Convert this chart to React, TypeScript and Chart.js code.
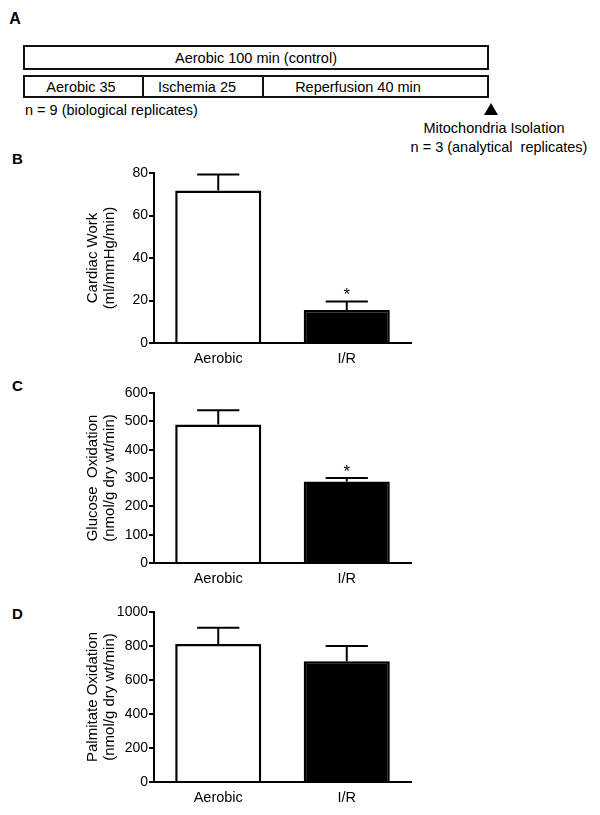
import React, { useEffect, useRef } from "react";
import { Chart, registerables } from "chart.js";

Chart.register(...registerables);

// ---------- data ----------
const categories = ["Aerobic", "I/R"];
const barFills = ["#ffffff", "#000000"];

const cardiacWork = [71.8, 15.5];
const cardiacWorkErr = [7.5, 4.0];
const cardiacWorkSig = [false, true];
const cardiacTicks = { min: 0, max: 80, step: 20 };

const glucoseOx = [489, 288];
const glucoseOxErr = [50, 12];
const glucoseOxSig = [false, true];
const glucoseTicks = { min: 0, max: 600, step: 100 };

const palmitateOx = [812, 710];
const palmitateOxErr = [96, 90];
const palmitateOxSig = [false, false];
const palmitateTicks = { min: 0, max: 1000, step: 200 };

const timelineControl = "Aerobic 100 min (control)";
const timelineSegments = ["Aerobic 35", "Ischemia 25", "Reperfusion 40 min"];
const bioNote = "n = 9 (biological replicates)";
const isoNote1 = "Mitochondria Isolation";
const isoNote2 = "n = 3 (analytical  replicates)";

const FONT = "'Liberation Sans', Arial, Helvetica, sans-serif";
const INK = "#000";

const errorBarPlugin = {
  id: "errorBars",
  afterDatasetsDraw(chart: any, _args: any, opts: any) {
    const { ctx } = chart;
    const meta = chart.getDatasetMeta(0);
    const yScale = chart.scales.y;
    const values = chart.data.datasets[0].data as number[];
    const errs: number[] = opts.errors || [];
    const stars: boolean[] = opts.stars || [];
    ctx.save();
    ctx.strokeStyle = "#000";
    ctx.lineWidth = 2;
    meta.data.forEach((bar: any, i: number) => {
      const v = values[i];
      const e = errs[i] || 0;
      const yBar = yScale.getPixelForValue(v);
      const yTop = yScale.getPixelForValue(v + e);
      const half = bar.width * 0.245;
      ctx.beginPath();
      ctx.moveTo(bar.x, yBar);
      ctx.lineTo(bar.x, yTop);
      ctx.moveTo(bar.x - half, yTop);
      ctx.lineTo(bar.x + half, yTop);
      ctx.stroke();
      if (stars[i]) {
        ctx.fillStyle = INK;
        ctx.font = `17px ${FONT}`;
        ctx.textAlign = "center";
        ctx.textBaseline = "alphabetic";
        ctx.fillText("*", bar.x, yTop - 1.5);
      }
    });
    ctx.restore();
  },
};

type PanelProps = {
  top: number;
  values: number[];
  errors: number[];
  stars: boolean[];
  ticks: { min: number; max: number; step: number };
  title: string[];
};

const CANVAS_H = 233;

function BarPanel({ top, values, errors, stars, ticks, title }: PanelProps) {
  const ref = useRef<HTMLCanvasElement>(null);
  useEffect(() => {
    const chart = new Chart(ref.current as HTMLCanvasElement, {
      type: "bar",
      data: {
        labels: categories,
        datasets: [
          {
            data: values,
            backgroundColor: barFills,
            borderColor: "#000",
            borderWidth: 2.5,
            barPercentage: 0.67,
            categoryPercentage: 1,
          },
        ],
      },
      plugins: [errorBarPlugin as any],
      options: {
        responsive: false,
        animation: false,
        events: [],
        layout: { padding: { top: 33, bottom: 0, left: 0, right: 189 } },
        plugins: {
          legend: { display: false },
          tooltip: { enabled: false },
          errorBars: { errors, stars },
        } as any,
        scales: {
          x: {
            type: "category",
            offset: true,
            z: 1,
            grid: { display: false, drawTicks: false },
            border: { display: true, color: "#000", width: 2 },
            ticks: {
              color: INK,
              font: { family: FONT, size: 14.5 },
              padding: 7.5,
              maxRotation: 0,
              autoSkip: false,
            },
            afterFit: (s: any) => {
              s.height = 30;
            },
          },
          y: {
            min: ticks.min,
            max: ticks.max,
            ticks: {
              stepSize: ticks.step,
              color: INK,
              font: { family: FONT, size: 14 },
              padding: 1,
              callback: (v: any) => String(v),
            },
            grid: {
              display: true,
              drawOnChartArea: false,
              drawTicks: true,
              tickLength: 5,
              color: "#000",
              lineWidth: 2,
            },
            border: { display: true, color: "#000", width: 2 },
            title: {
              display: true,
              text: title,
              color: INK,
              font: { family: FONT, size: 15, lineHeight: 17 / 15 },
              padding: { top: 84.5, bottom: 0 },
            },
            afterFit: (s: any) => {
              s.width = 154;
            },
          },
        },
      } as any,
    });
    return () => chart.destroy();
  }, []);
  return (
    <canvas
      ref={ref}
      width={600}
      height={CANVAS_H}
      style={{ position: "absolute", left: 0, top, width: 600, height: CANVAS_H }}
    />
  );
}

function Txt({
  x,
  y,
  children,
  size = 14.5,
  bold = false,
  align = "center",
}: {
  x: number;
  y: number;
  children: React.ReactNode;
  size?: number;
  bold?: boolean;
  align?: "center" | "left";
}) {
  return (
    <div
      style={{
        position: "absolute",
        left: x,
        top: y,
        transform: align === "center" ? "translate(-50%,-50%)" : "translate(0,-50%)",
        fontSize: size,
        lineHeight: 1,
        whiteSpace: "pre",
        fontWeight: bold ? 700 : 400,
        color: INK,
      }}
    >
      {children}
    </div>
  );
}

const boxStyle: React.CSSProperties = {
  position: "absolute",
  border: "2px solid #111",
  boxSizing: "border-box",
};

export default function App() {
  return (
    <div
      style={{
        position: "absolute",
        left: 0,
        top: 0,
        width: 600,
        height: 815,
        background: "#fff",
        fontFamily: FONT,
        overflow: "hidden",
      }}
    >
      {/* Panel A */}
      <Txt x={15} y={19} size={16} bold>
        A
      </Txt>
      <div style={{ ...boxStyle, left: 23, top: 45, width: 466, height: 25 }} />
      <Txt x={256} y={57.5}>{timelineControl}</Txt>
      <div style={{ ...boxStyle, left: 23, top: 75, width: 466, height: 23 }} />
      <div style={{ position: "absolute", left: 142, top: 75, width: 2, height: 23, background: "#111" }} />
      <div style={{ position: "absolute", left: 262, top: 75, width: 2, height: 23, background: "#111" }} />
      <Txt x={81} y={86.5}>{timelineSegments[0]}</Txt>
      <Txt x={197} y={86.5}>{timelineSegments[1]}</Txt>
      <Txt x={358} y={86.5}>{timelineSegments[2]}</Txt>
      <Txt x={25} y={110} align="left">
        {bioNote}
      </Txt>
      <div
        style={{
          position: "absolute",
          left: 484,
          top: 103,
          width: 0,
          height: 0,
          borderLeft: "7.5px solid transparent",
          borderRight: "7.5px solid transparent",
          borderBottom: "12px solid #000",
        }}
      />
      <Txt x={494} y={128}>{isoNote1}</Txt>
      <Txt x={499} y={147}>{isoNote2}</Txt>

      {/* Panel letters */}
      <Txt x={17.5} y={158} size={15} bold>
        B
      </Txt>
      <Txt x={17.5} y={385} size={15} bold>
        C
      </Txt>
      <Txt x={17.5} y={613} size={15} bold>
        D
      </Txt>

      <BarPanel
        top={140}
        values={cardiacWork}
        errors={cardiacWorkErr}
        stars={cardiacWorkSig}
        ticks={cardiacTicks}
        title={["Cardiac Work", "(ml/mmHg/min)"]}
      />
      <BarPanel
        top={360}
        values={glucoseOx}
        errors={glucoseOxErr}
        stars={glucoseOxSig}
        ticks={glucoseTicks}
        title={["Glucose  Oxidation", "(nmol/g dry wt/min)"]}
      />
      <BarPanel
        top={579}
        values={palmitateOx}
        errors={palmitateOxErr}
        stars={palmitateOxSig}
        ticks={palmitateTicks}
        title={["Palmitate Oxidation", "(nmol/g dry wt/min)"]}
      />
    </div>
  );
}
